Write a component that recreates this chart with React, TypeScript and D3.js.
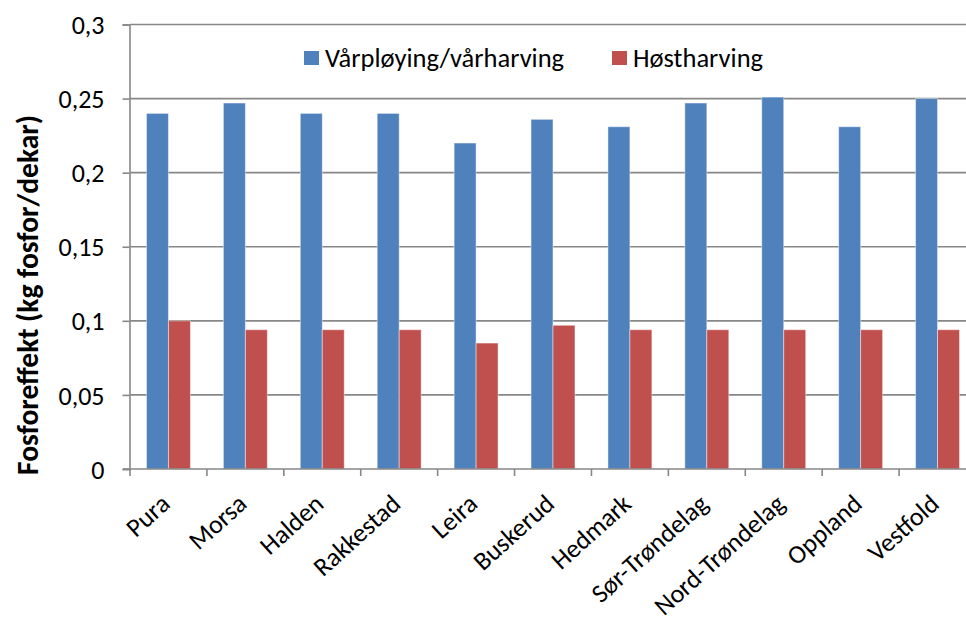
import React, { useEffect, useRef } from 'react';
import * as d3 from 'd3';

const categories = ['Pura', 'Morsa', 'Halden', 'Rakkestad', 'Leira', 'Buskerud', 'Hedmark', 'Sør-Trøndelag', 'Nord-Trøndelag', 'Oppland', 'Vestfold'];
const seriesNames = ['Vårpløying/vårharving', 'Høstharving'];
const varValues = [0.24, 0.247, 0.24, 0.24, 0.22, 0.236, 0.231, 0.247, 0.251, 0.231, 0.25];
const hostValues = [0.1, 0.094, 0.094, 0.094, 0.085, 0.097, 0.094, 0.094, 0.094, 0.094, 0.094];
const yTicks = [0, 0.05, 0.1, 0.15, 0.2, 0.25, 0.3];
const colors = ['#4F81BD', '#C0504D'];

const W = 966;
const H = 621;
const FONT = 'Carlito, Calibri, Lato, sans-serif';

const App: React.FC = () => {
  const svgRef = useRef<SVGSVGElement>(null);

  useEffect(() => {
    if (!svgRef.current) return;
    const svg = d3.select(svgRef.current);
    svg.selectAll('*').remove();

    const left = 130;
    const right = 976; // plot area runs past the picture's edge
    const top = 24.5;
    const bottom = 469;

    const x0 = d3.scaleBand<string>().domain(categories).range([left, right]);
    const bw = x0.bandwidth();
    const gap = bw * 0.75 / 3.5;
    const x1 = d3.scaleBand<string>().domain(seriesNames).range([gap, bw - gap]);
    const y = d3.scaleLinear().domain([0, 0.3]).range([bottom, top]);

    const fmt = (v: number) => String(+v.toFixed(2)).replace('.', ',');

    // gridlines
    svg.append('g')
      .selectAll('line')
      .data(yTicks.filter(t => t > 0))
      .enter().append('line')
      .attr('x1', left)
      .attr('x2', W)
      .attr('y1', d => y(d))
      .attr('y2', d => y(d))
      .attr('stroke', '#878787')
      .attr('stroke-width', 1.6);

    // bars
    const rows = categories.map((c, i) => ({ c, vals: [varValues[i], hostValues[i]] }));
    const groups = svg.append('g')
      .selectAll('g')
      .data(rows)
      .enter().append('g')
      .attr('transform', d => `translate(${x0(d.c)},0)`);
    groups.selectAll('rect')
      .data(d => d.vals.map((v, k) => ({ v, k })))
      .enter().append('rect')
      .attr('x', d => x1(seriesNames[d.k])!)
      .attr('width', x1.bandwidth())
      .attr('y', d => y(d.v))
      .attr('height', d => bottom - y(d.v))
      .attr('fill', d => colors[d.k])
      .attr('stroke', 'rgba(255,255,255,0.45)')
      .attr('stroke-width', 1);

    // y axis
    const yAxis = svg.append('g')
      .attr('transform', `translate(${left - 0.5},0)`)
      .call(d3.axisLeft(y).tickValues(yTicks).tickSize(7).tickPadding(18).tickFormat(d => fmt(+d)));
    yAxis.select('.domain').attr('stroke', '#878787').attr('stroke-width', 1.6);
    yAxis.selectAll('.tick line').attr('stroke', '#878787').attr('stroke-width', 1.6);
    yAxis.selectAll('.tick text')
      .style('font-family', FONT)
      .style('font-size', '26px')
      .attr('dy', '0.35em')
      .attr('fill', '#000');

    // x axis
    const xAxisG = svg.append('g').attr('transform', `translate(0,${bottom})`);
    xAxisG.append('line')
      .attr('x1', left - 7).attr('x2', W)
      .attr('y1', 0).attr('y2', 0)
      .attr('stroke', '#878787').attr('stroke-width', 1.6);
    xAxisG.selectAll('.xt')
      .data(d3.range(categories.length + 1))
      .enter().append('line')
      .attr('class', 'xt')
      .attr('x1', i => left + i * bw)
      .attr('x2', i => left + i * bw)
      .attr('y1', 0).attr('y2', 7)
      .attr('stroke', '#878787').attr('stroke-width', 1.6);
    xAxisG.selectAll('.xl')
      .data(categories)
      .enter().append('text')
      .attr('class', 'xl')
      .attr('text-anchor', 'end')
      .attr('transform', d => `translate(${x0(d)! + bw / 2 + 3},${37}) rotate(-42)`)
      .style('font-family', FONT)
      .style('font-size', '26px')
      .attr('fill', '#000')
      .text(d => d);

    // y title
    svg.append('text')
      .attr('transform', `translate(38,295) rotate(-90)`)
      .attr('text-anchor', 'middle')
      .style('font-family', FONT)
      .style('font-size', '29.5px')
      .style('font-weight', 'bold')
      .attr('fill', '#000')
      .text('Fosforeffekt (kg fosfor/dekar)');

    // legend
    const legendX = [304, 612];
    const legend = svg.append('g')
      .selectAll('g')
      .data(seriesNames)
      .enter().append('g')
      .attr('transform', (d, i) => `translate(${legendX[i]},51)`);
    legend.append('rect')
      .attr('width', 15).attr('height', 14)
      .attr('fill', (d, i) => colors[i]);
    legend.append('text')
      .attr('x', 21).attr('y', 15.5)
      .style('font-family', FONT)
      .style('font-size', '26.5px')
      .attr('fill', '#000')
      .text(d => d);
  }, []);

  return (
    <svg
      ref={svgRef}
      width={W}
      height={H}
      style={{ position: 'absolute', left: 0, top: 0, background: '#fff' }}
    />
  );
};

export default App;
